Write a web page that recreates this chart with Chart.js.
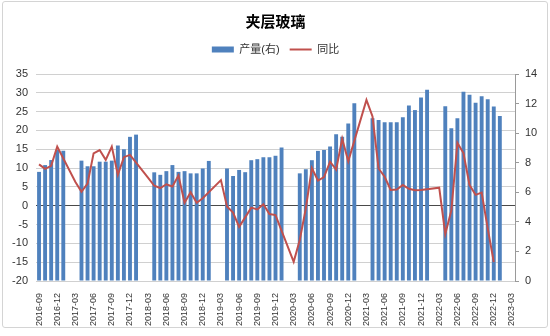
<!DOCTYPE html>
<html>
<head>
<meta charset="utf-8">
<script src="https://cdn.jsdelivr.net/npm/chart.js@4.4.1/dist/chart.umd.min.js"></script>
<style>
  html, body { margin: 0; padding: 0; background: #fff; }
  #wrap { position: relative; width: 550px; height: 336px; }
  #frame {
    position: absolute; left: 2px; top: 1px; width: 544px; height: 325px;
    border: 1px solid #d4d4d4; border-radius: 3px; pointer-events: none;
  }
</style>
</head>
<body>
<div id="wrap">
  <canvas id="glassChart"></canvas>
  <div id="frame"></div>
</div>
<script>
/* =========================
   夹层玻璃：产量(右) + 同比
   ========================= */

const months = [
  "2016-09", "2016-10", "2016-11", "2016-12",
  "2017-01", "2017-02", "2017-03", "2017-04", "2017-05", "2017-06", "2017-07", "2017-08", "2017-09", "2017-10", "2017-11", "2017-12",
  "2018-01", "2018-02", "2018-03", "2018-04", "2018-05", "2018-06", "2018-07", "2018-08", "2018-09", "2018-10", "2018-11", "2018-12",
  "2019-01", "2019-02", "2019-03", "2019-04", "2019-05", "2019-06", "2019-07", "2019-08", "2019-09", "2019-10", "2019-11", "2019-12",
  "2020-01", "2020-02", "2020-03", "2020-04", "2020-05", "2020-06", "2020-07", "2020-08", "2020-09", "2020-10", "2020-11", "2020-12",
  "2021-01", "2021-02", "2021-03", "2021-04", "2021-05", "2021-06", "2021-07", "2021-08", "2021-09", "2021-10", "2021-11", "2021-12",
  "2022-01", "2022-02", "2022-03", "2022-04", "2022-05", "2022-06", "2022-07", "2022-08", "2022-09", "2022-10", "2022-11", "2022-12",
  "2023-01", "2023-02", "2023-03"
];

// 产量 (right axis)
const output = [
  7.38, 7.84, 8.18, 8.86, 8.81, null, null,
  8.14, 7.76, 7.76, 8.07, 8.07, 8.14, 9.16, 8.91, 9.75, 9.90, null, null,
  7.35, 7.18, 7.43, 7.84, 7.38, 7.43, 7.28, 7.28, 7.61, 8.12, null, null,
  7.61, 7.10, 7.51, 7.36, 8.17, 8.24, 8.37, 8.37, 8.47, 9.03, null, null,
  7.28, 7.56, 8.17, 8.80, 8.86, 9.09, 9.92, 9.75, 10.66, 12.02, null, null,
  11.00, 10.89, 10.74, 10.74, 10.74, 11.08, 11.87, 11.56, 12.41, 12.93, null, null,
  11.82, 10.33, 11.00, 12.80, 12.60, 12.06, 12.50, 12.29, 11.81, 11.16, null, null
];

// 同比 (left axis, %)
const yoy = [
  11.0, 9.8, 10.6, 15.7, null, null, 6.3,
  3.7, 5.9, 13.9, 14.8, 12.2, 15.7, 8.2, 12.9, 13.5, null, null, 7.4,
  5.3, 4.7, 5.7, 5.1, 8.0, 0.8, 3.6, 0.8, 2.0, null, null, 6.8,
  -0.2, -1.8, -5.6, -3.1, -0.5, -1.0, 0.4, -2.2, -2.5, null, null, -14.9,
  -9.1, -0.7, 10.0, 6.7, 7.6, 11.7, 9.6, 17.8, 11.8, null, null, 28.1,
  23.7, 9.9, 7.7, 4.2, 4.3, 5.5, 4.5, 4.1, 4.2, null, null, 4.8,
  -7.5, -1.3, 16.7, 14.0, 5.5, 2.9, 3.5, -6.0, -15.0, null, null, null
];

const LEFT_MIN = -20, LEFT_MAX = 35, LEFT_STEP = 5;
const RIGHT_MIN = 0, RIGHT_MAX = 14, RIGHT_STEP = 2;

const FONT = 'Arial, "Liberation Sans", "Noto Sans CJK SC", sans-serif';

// extra room under the legend row
const legendGap = {
  id: "legendGap",
  beforeInit(chart) {
    if (!chart.legend) return;
    const fit = chart.legend.fit;
    chart.legend.fit = function () {
      fit.call(this);
      this.height += 9;
    };
  }
};

const ctx = document.getElementById("glassChart").getContext("2d");

new Chart(ctx, {
  data: {
    labels: months,
    datasets: [
      {
        type: "bar",
        label: "产量(右)",
        data: output,
        yAxisID: "y1",
        backgroundColor: "#4f81bd",
        borderWidth: 0,
        categoryPercentage: 1,
        barPercentage: 0.64,
        order: 2
      },
      {
        type: "line",
        label: "同比",
        data: yoy,
        yAxisID: "y",
        borderColor: "#c0504d",
        backgroundColor: "#c0504d",
        borderWidth: 2,
        pointRadius: 0,
        tension: 0,
        spanGaps: true,
        order: 1
      }
    ]
  },
  options: {
    responsive: true,
    maintainAspectRatio: false,
    animation: false,
    layout: { padding: { top: 4, left: 4, right: 3, bottom: 9 } },
    plugins: {
      title: {
        display: true,
        text: "夹层玻璃",
        color: "#000",
        font: { family: '"Noto Sans CJK SC", sans-serif', size: 15, weight: "bold" },
        padding: { top: 8, bottom: 4 }
      },
      legend: {
        display: true,
        position: "top",
        labels: {
          color: "#333",
          font: { family: FONT, size: 11 },
          usePointStyle: true,
          pointStyleWidth: 22,
          boxHeight: 6,
          padding: 10,
          generateLabels(chart) {
            return chart.data.datasets.map((ds, i) => ({
              text: ds.label,
              datasetIndex: i,
              fillStyle: ds.backgroundColor,
              strokeStyle: ds.type === "line" ? ds.borderColor : ds.backgroundColor,
              lineWidth: ds.type === "line" ? 2 : 0,
              pointStyle: ds.type === "line" ? "line" : "rect",
              fontColor: "#333",
              hidden: false
            }));
          },
          sort: (a, b) => a.datasetIndex - b.datasetIndex
        }
      },
      tooltip: { enabled: false }
    },
    scales: {
      x: {
        offset: true,
        grid: { display: false },
        border: { display: false },
        ticks: {
          autoSkip: false,
          minRotation: 90,
          maxRotation: 90,
          padding: 4,
          color: "#333",
          font: { family: FONT, size: 9 },
          callback: (v, i) => (i % 3 === 0 ? months[i] : "")
        },
        afterFit: (scale) => { scale.height = 46; }
      },
      y: {
        position: "left",
        min: LEFT_MIN,
        max: LEFT_MAX,
        ticks: {
          stepSize: LEFT_STEP,
          color: "#333",
          padding: 8,
          font: { family: FONT, size: 11 }
        },
        grid: {
          drawTicks: false,
          color: (c) => (c.tick && c.tick.value === 0 ? "#4a4a4a" : "#d0d0d0"),
          lineWidth: 1
        },
        border: { display: false },
        afterFit: (scale) => { scale.width = 32; }
      },
      y1: {
        position: "right",
        min: RIGHT_MIN,
        max: RIGHT_MAX,
        ticks: {
          stepSize: RIGHT_STEP,
          color: "#333",
          padding: 6,
          font: { family: FONT, size: 11 }
        },
        grid: {
          drawOnChartArea: false,
          drawTicks: true,
          tickLength: 4,
          color: "#9a9a9a"
        },
        border: { display: true, color: "#9a9a9a" },
        afterFit: (scale) => { scale.width = 32; }
      }
    }
  },
  plugins: [legendGap]
});
</script>
</body>
</html>
